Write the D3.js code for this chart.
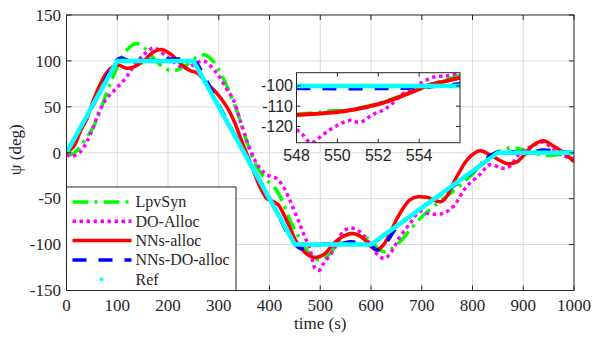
<!DOCTYPE html>
<html>
<head>
<meta charset="utf-8">
<script src="https://cdn.jsdelivr.net/npm/d3@7"></script>
<style>
  html, body { margin: 0; padding: 0; background: #fff; }
</style>
</head>
<body>
<div id="chart"></div>
<script>
// ---- data ----
const xTicks = [0, 100, 200, 300, 400, 500, 600, 700, 800, 900, 1000];
const yTicks = [-150, -100, -50, 0, 50, 100, 150];
const insetXTicks = [548, 550, 552, 554];
const insetYTicks = [-120, -110, -100];

const refT = [0, 100, 250, 450, 600, 850, 1000];
const refV = [0, 100, 100, -100, -100, 0, 0];

const lpvT = [0, 10, 27, 40, 53, 66, 79, 92, 105, 119, 138, 158, 178, 197, 214, 237, 257, 273, 290, 302, 309, 322, 335, 348, 361, 375, 388, 401, 414, 427, 440, 454, 473, 486, 500, 519, 539, 558, 578, 598, 617, 630, 640, 657, 677, 696, 720, 750, 775, 801, 828, 854, 880, 906, 945, 984, 1000];
const lpvV = [0, -2, 6.5, 17, 28, 45, 65, 83, 99, 112, 119, 112, 99, 91, 89.5, 95.6, 104, 106.5, 99, 88, 81, 65, 46.6, 24.8, 3, -15, -26, -33.4, -40.7, -55, -73, -88, -106, -113, -117, -110, -95, -88, -90, -95, -106, -108, -105, -97, -84, -72, -60, -47, -36, -22.5, -5.6, 2, 5.5, 2, -3, -1, 0];

const doT = [0, 10, 27, 40, 53, 66, 79, 92, 105, 119, 132, 152, 172, 197, 224, 235, 250, 270, 296, 315, 329, 342, 355, 368, 381, 395, 414, 427, 440, 454, 467, 480, 490, 498, 506, 526, 545, 560, 578, 598, 614, 627, 640, 657, 677, 696, 710, 722, 742, 762, 788, 814, 834, 860, 873, 893, 920, 938, 964, 990, 1000];
const doV = [-2, -4, 1, 12, 28, 46.5, 59, 66.5, 74, 83, 94, 106.5, 114, 105, 94, 92, 95.6, 100, 86.5, 70, 57.5, 35.7, 13.8, -4.4, -17, -24, -28, -37, -51.6, -70, -88, -106, -126, -128, -121, -106, -86, -82, -86, -99, -111.6, -115, -108, -91.6, -77, -64, -66, -67, -66, -58.6, -37, -24, -13, -17, -15, -1, 8, 11.6, 2, -5.6, -6];

const nnT = [0, 14, 27, 40, 53, 66, 79, 92, 102, 119, 135, 152, 172, 188, 205, 224, 243, 257, 276, 296, 316, 329, 342, 355, 368, 381, 395, 408, 418, 427, 440, 452, 473, 490, 509, 526, 545, 565, 585, 601, 611, 624, 637, 650, 663, 676, 692, 710, 740, 769, 789, 808, 818, 840, 867, 887, 920, 940, 960, 986, 1000];
const nnV = [0, 6.5, 23, 37, 57, 74, 87, 94, 95.5, 92, 94, 100, 110, 112.5, 107.5, 97.5, 89.5, 87, 76, 65, 50, 36, 17.5, -1, -19, -37, -50, -53.5, -57, -66, -81, -96, -110, -114, -110, -99, -91, -88, -93.4, -102.5, -106, -100.7, -88, -73, -60.7, -51.6, -48, -48.5, -53, -26, -8, 1, 2, -4, -11.6, -10, 8.4, 13, 7, -2.5, -10];

const nnDoT = [0, 50, 95, 105, 125, 250, 265, 300, 350, 400, 445, 460, 475, 500, 540, 560, 585, 600, 612, 625, 650, 700, 750, 800, 835, 850, 880, 910, 940, 970, 1000];
const nnDoV = [0, 49, 98, 103, 100.5, 100, 90, 52, 1, -49, -96, -104, -103, -100, -99, -97, -99, -101, -106, -102, -82, -60, -41, -21, -3, 1, 1, 0, 3, 1, 0];

// inset (zoom on 548..556 s)
const inRefT = [548, 556];
const inRefV = [-100, -100];
const inLpvT = [548, 549, 549.6, 550.5, 551.5, 552.5, 553.5, 554.5, 555.2, 556];
const inLpvV = [-114, -113.2, -112.4, -112, -110, -107, -103.5, -99.5, -97.3, -94.8];
const inDoT = [548, 548.3, 548.7, 549.3, 549.9, 550.6, 551.1, 551.7, 552.4, 553.4, 554, 554.7, 555.4, 556];
const inDoV = [-121.6, -124, -128, -124, -120, -117, -118, -114.3, -111, -102.3, -99, -95.7, -95, -93.8];
const inNnT = [548, 549, 549.9, 550.9, 551.9, 552.9, 553.9, 554.5, 555.2, 556];
const inNnV = [-114.3, -113.7, -113, -111.5, -109.3, -106, -102, -99.5, -97.9, -95.9];
const inNnDoT = [548, 553, 554.5, 555.5, 556];
const inNnDoV = [-101.3, -101.2, -100.5, -99.5, -99];

const seriesNames = ["LpvSyn", "DO-Alloc", "NNs-alloc", "NNs-DO-alloc", "Ref"];

// ---- styles ----
const styles = {
  "LpvSyn":       { color: "#00ff00", width: 3.5, dash: "16,6,3,6" },
  "DO-Alloc":     { color: "#ff00ff", width: 3.5, dash: "3.5,3.5" },
  "NNs-alloc":    { color: "#ff0000", width: 3.5, dash: null },
  "NNs-DO-alloc": { color: "#0000ff", width: 3.5, dash: "14,12" },
  "Ref":          { color: "#00ffff", width: 4.5, dash: null }
};

const zip = (t, v) => t.map((d, i) => [d, v[i]]);
const mainData = {
  "LpvSyn": zip(lpvT, lpvV),
  "DO-Alloc": zip(doT, doV),
  "NNs-alloc": zip(nnT, nnV),
  "NNs-DO-alloc": zip(nnDoT, nnDoV),
  "Ref": zip(refT, refV)
};
const insetData = {
  "LpvSyn": zip(inLpvT, inLpvV),
  "DO-Alloc": zip(inDoT, inDoV),
  "NNs-alloc": zip(inNnT, inNnV),
  "NNs-DO-alloc": zip(inNnDoT, inNnDoV),
  "Ref": zip(inRefT, inRefV)
};

const axisColor = "#262626";
const serif = "'Liberation Serif', 'Times New Roman', serif";
const sans = "'Liberation Sans', Arial, sans-serif";

const svg = d3.select("#chart").append("svg")
    .attr("width", 593)
    .attr("height", 338);

const x = d3.scaleLinear().domain([0, 1000]).range([66.5, 574]);
const y = d3.scaleLinear().domain([-150, 150]).range([290.5, 15]);

const defs = svg.append("defs");
defs.append("clipPath").attr("id", "clipMain")
  .append("rect")
    .attr("x", x(0)).attr("y", y(150))
    .attr("width", x(1000) - x(0)).attr("height", y(-150) - y(150));

// Grid
const grid = svg.append("g");
grid.selectAll("line.gx")
  .data(xTicks.slice(1, -1))
  .join("line")
    .attr("x1", d => x(d)).attr("x2", d => x(d))
    .attr("y1", y(150)).attr("y2", y(-150))
    .attr("stroke", "#dcdcdc").attr("stroke-width", 1);
grid.selectAll("line.gy")
  .data(yTicks.slice(1, -1))
  .join("line")
    .attr("x1", x(0)).attr("x2", x(1000))
    .attr("y1", d => y(d)).attr("y2", d => y(d))
    .attr("stroke", "#dcdcdc").attr("stroke-width", 1);

// Series
const mainLine = (name) => d3.line()
    .x(d => x(d[0]))
    .y(d => y(d[1]))
    .curve(name === "Ref" ? d3.curveLinear : d3.curveCatmullRom.alpha(0.5));

const plot = svg.append("g").attr("clip-path", "url(#clipMain)");
seriesNames.forEach(name => {
  const s = styles[name];
  plot.append("path")
    .attr("d", mainLine(name)(mainData[name]))
    .attr("fill", "none")
    .attr("stroke", s.color)
    .attr("stroke-width", s.width)
    .attr("stroke-dasharray", s.dash)
    .attr("stroke-linejoin", "round");
});

// Axes box with inward ticks
function boxAxes(g, sx, sy, xt, yt, tickLen) {
  const [x0, x1] = sx.range();
  const [y0, y1] = sy.range();
  g.append("rect")
    .attr("x", x0).attr("y", y1)
    .attr("width", x1 - x0).attr("height", y0 - y1)
    .attr("fill", "none").attr("stroke", axisColor).attr("stroke-width", 1);
  xt.forEach(t => {
    g.append("line").attr("x1", sx(t)).attr("x2", sx(t)).attr("y1", y0).attr("y2", y0 - tickLen)
      .attr("stroke", axisColor);
    g.append("line").attr("x1", sx(t)).attr("x2", sx(t)).attr("y1", y1).attr("y2", y1 + tickLen)
      .attr("stroke", axisColor);
  });
  yt.forEach(t => {
    g.append("line").attr("x1", x0).attr("x2", x0 + tickLen).attr("y1", sy(t)).attr("y2", sy(t))
      .attr("stroke", axisColor);
    g.append("line").attr("x1", x1).attr("x2", x1 - tickLen).attr("y1", sy(t)).attr("y2", sy(t))
      .attr("stroke", axisColor);
  });
}

const axes = svg.append("g");
boxAxes(axes, x, y, xTicks, yTicks, 5);

axes.selectAll("text.xt")
  .data(xTicks)
  .join("text")
    .attr("x", d => x(d))
    .attr("y", 311)
    .attr("text-anchor", "middle")
    .attr("font-family", serif)
    .attr("font-size", 17)
    .attr("fill", axisColor)
    .text(d => d);

axes.selectAll("text.yt")
  .data(yTicks)
  .join("text")
    .attr("x", 61)
    .attr("y", d => y(d))
    .attr("dy", "0.34em")
    .attr("text-anchor", "end")
    .attr("font-family", serif)
    .attr("font-size", 17)
    .attr("fill", axisColor)
    .text(d => d);

svg.append("text")
    .attr("x", (x(0) + x(1000)) / 2)
    .attr("y", 329)
    .attr("text-anchor", "middle")
    .attr("font-family", serif)
    .attr("font-size", 17)
    .attr("fill", axisColor)
    .text("time (s)");

svg.append("text")
    .attr("transform", `translate(21,${(y(150) + y(-150)) / 2 - 3}) rotate(-90)`)
    .attr("text-anchor", "middle")
    .attr("font-family", serif)
    .attr("font-size", 17)
    .attr("fill", axisColor)
    .text("ψ (deg)");

// Inset
const ix = d3.scaleLinear().domain([548, 556]).range([296.5, 460]);
const iy = d3.scaleLinear().domain([-128, -93.5]).range([142.7, 72.7]);

defs.append("clipPath").attr("id", "clipInset")
  .append("rect")
    .attr("x", ix(548)).attr("y", iy(-93.5))
    .attr("width", ix(556) - ix(548)).attr("height", iy(-128) - iy(-93.5));

const inset = svg.append("g");
inset.append("rect")
    .attr("x", ix(548)).attr("y", iy(-93.5))
    .attr("width", ix(556) - ix(548)).attr("height", iy(-128) - iy(-93.5))
    .attr("fill", "#fff");

const insetLine = (name) => d3.line()
    .x(d => ix(d[0]))
    .y(d => iy(d[1]))
    .curve(name === "Ref" ? d3.curveLinear : d3.curveCatmullRom.alpha(0.5));

const insetPlot = inset.append("g").attr("clip-path", "url(#clipInset)");
seriesNames.forEach(name => {
  const s = styles[name];
  insetPlot.append("path")
    .attr("d", insetLine(name)(insetData[name]))
    .attr("fill", "none")
    .attr("stroke", s.color)
    .attr("stroke-width", name === "NNs-alloc" ? 4 : s.width)
    .attr("stroke-dasharray", s.dash)
    .attr("stroke-linejoin", "round");
});

boxAxes(inset, ix, iy, insetXTicks, insetYTicks, 4);

inset.selectAll("text.ixt")
  .data(insetXTicks)
  .join("text")
    .attr("x", d => ix(d))
    .attr("y", 161)
    .attr("text-anchor", "middle")
    .attr("font-family", sans)
    .attr("font-size", 16)
    .attr("fill", axisColor)
    .text(d => d);

inset.selectAll("text.iyt")
  .data(insetYTicks)
  .join("text")
    .attr("x", 293)
    .attr("y", d => iy(d))
    .attr("dy", "0.35em")
    .attr("text-anchor", "end")
    .attr("font-family", sans)
    .attr("font-size", 16)
    .attr("fill", axisColor)
    .text(d => d);

// Legend
const legend = svg.append("g").attr("transform", "translate(66.5,187)");
legend.append("rect")
    .attr("width", 169.5).attr("height", 103.5)
    .attr("fill", "#fff").attr("stroke", axisColor).attr("stroke-width", 1);

const rowY = i => 15 + i * 19.3;
seriesNames.forEach((name, i) => {
  const s = styles[name];
  if (name === "Ref") {
    legend.append("circle")
      .attr("cx", 35).attr("cy", rowY(i)).attr("r", 2)
      .attr("fill", s.color);
  } else {
    legend.append("line")
      .attr("x1", 6).attr("x2", 65)
      .attr("y1", rowY(i)).attr("y2", rowY(i))
      .attr("stroke", s.color)
      .attr("stroke-width", s.width)
      .attr("stroke-dasharray", s.dash);
  }
  legend.append("text")
    .attr("x", 69)
    .attr("y", rowY(i))
    .attr("dy", "0.34em")
    .attr("font-family", serif)
    .attr("font-size", 16)
    .attr("fill", axisColor)
    .text(name);
});
</script>
</body>
</html>
